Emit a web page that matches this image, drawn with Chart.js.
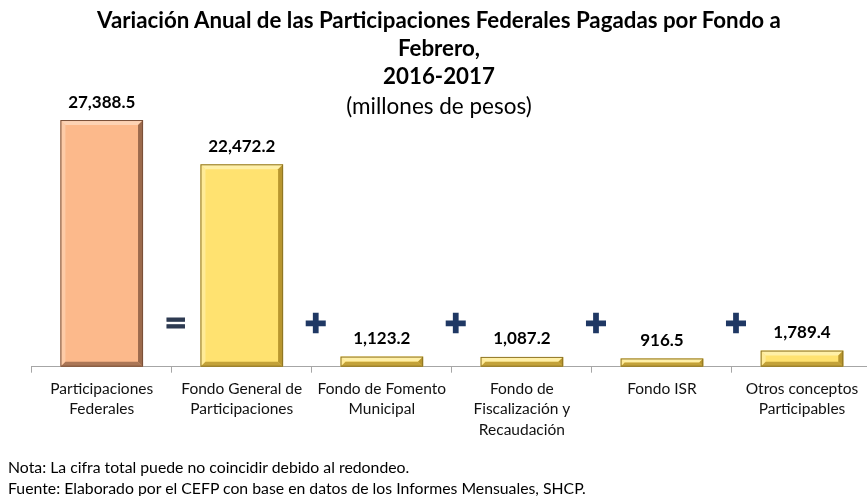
<!DOCTYPE html>
<html><head><meta charset="utf-8">
<script src="https://cdn.jsdelivr.net/npm/chart.js@4.4.1/dist/chart.umd.min.js"></script>
<style>
html,body{margin:0;padding:0;background:#fff;overflow:hidden;width:867px;height:496px;}
#wrap{position:relative;width:867px;height:496px;overflow:hidden;}
#c{position:absolute;left:0;top:0;}
.t{position:absolute;left:0;width:878px;text-align:center;color:#000;font-family:Lato,'Open Sans',sans-serif;white-space:nowrap;}
.tb{font-weight:bold;font-size:22.3px;line-height:28px;top:6px;}
.ts{font-size:22.5px;line-height:26px;top:93px;}
.notes{position:absolute;left:8px;top:456px;font-family:Lato,'Open Sans',sans-serif;font-size:15.8px;line-height:21px;color:#000;white-space:nowrap;}
</style></head>
<body><div id="wrap">
<canvas id="c" width="872" height="496"></canvas>
<div class="t tb">Variación Anual de las Participaciones Federales Pagadas por Fondo a<br>Febrero,<br>2016-2017</div>
<div class="t ts">(millones de pesos)</div>
<div class="notes">Nota: La cifra total puede no coincidir debido al redondeo.<br>Fuente: Elaborado por el CEFP con base en datos de los Informes Mensuales, SHCP.</div>
</div>
<script>
const categories = [
  ["Participaciones", "Federales"],
  ["Fondo General de", "Participaciones"],
  ["Fondo de Fomento", "Municipal"],
  ["Fondo de", "Fiscalización y", "Recaudación"],
  ["Fondo ISR"],
  ["Otros conceptos", "Participables"]
];
const values = [27388.5, 22472.2, 1123.2, 1087.2, 916.5, 1789.4];
const operators = ["=", "+", "+", "+", "+"];

const bodyColors = ["#FCB98B", "#FFE270", "#FFE270", "#FFE270", "#FFE270", "#FFE270"];
const lightColors = ["#FDD3B4", "#FFF0A8", "#FFF0A8", "#FFF0A8", "#FFF0A8", "#FFF0A8"];
const darkColors = ["#9C6A4C", "#B8962F", "#B8962F", "#B8962F", "#B8962F", "#B8962F"];
const edgeColors = ["#7A5038", "#8E7424", "#8E7424", "#8E7424", "#8E7424", "#8E7424"];

const fmt = v => v.toLocaleString('en-US', {minimumFractionDigits: 1, maximumFractionDigits: 1});

const bevelPlugin = {
  id: 'bevel',
  afterDatasetsDraw(chart) {
    const ctx = chart.ctx;
    const meta = chart.getDatasetMeta(0);
    meta.data.forEach((bar, i) => {
      const l = bar.x - bar.width / 2, r = bar.x + bar.width / 2, t = bar.y, b = bar.base;
      const h = b - t;
      const s = Math.min(5, h / 2);
      ctx.save();
      ctx.fillStyle = lightColors[i];
      ctx.beginPath(); ctx.moveTo(l, t); ctx.lineTo(r, t); ctx.lineTo(r - s, t + s); ctx.lineTo(l + s, t + s); ctx.closePath(); ctx.fill();
      ctx.globalAlpha = 0.7;
      ctx.beginPath(); ctx.moveTo(l, t); ctx.lineTo(l + s, t + s); ctx.lineTo(l + s, b - s); ctx.lineTo(l, b); ctx.closePath(); ctx.fill();
      ctx.globalAlpha = 1;
      ctx.fillStyle = darkColors[i];
      ctx.beginPath(); ctx.moveTo(r, t); ctx.lineTo(r, b); ctx.lineTo(r - s, b - s); ctx.lineTo(r - s, t + s); ctx.closePath(); ctx.fill();
      ctx.globalAlpha = 0.85;
      ctx.beginPath(); ctx.moveTo(l, b); ctx.lineTo(r, b); ctx.lineTo(r - s, b - s); ctx.lineTo(l + s, b - s); ctx.closePath(); ctx.fill();
      ctx.globalAlpha = 1;
      ctx.strokeStyle = edgeColors[i];
      ctx.lineWidth = 1;
      ctx.strokeRect(l + 0.5, t + 0.5, r - l - 1, h - 1);
      ctx.restore();
    });
  }
};

const labelPlugin = {
  id: 'labels',
  afterDatasetsDraw(chart) {
    const ctx = chart.ctx;
    const meta = chart.getDatasetMeta(0);
    ctx.save();
    ctx.font = 'bold 17px Lato';
    ctx.fillStyle = '#000';
    ctx.textAlign = 'center';
    ctx.textBaseline = 'middle';
    meta.data.forEach((bar, i) => {
      ctx.fillText(fmt(values[i]), bar.x, bar.y - 18);
    });
    const xs = chart.scales.x, ys = chart.scales.y;
    operators.forEach((op, k) => {
      const xb = (xs.getPixelForValue(k) + xs.getPixelForValue(k + 1)) / 2 + 4;
      const yb = ys.getPixelForValue(4630);
      ctx.font = 'bold 28px "DejaVu Sans"';
      ctx.fillStyle = op === '=' ? '#2E3B52' : '#1F3864';
      ctx.strokeStyle = ctx.fillStyle;
      ctx.lineWidth = op === '=' ? 1 : 2.5;
      ctx.lineJoin = 'miter';
      ctx.fillText(op, xb, yb);
      ctx.strokeText(op, xb, yb);
    });
    ctx.restore();
  }
};

new Chart(document.getElementById('c'), {
  type: 'bar',
  data: {
    labels: categories,
    datasets: [{
      data: values,
      backgroundColor: bodyColors,
      borderWidth: 0,
      barPercentage: 0.59,
      categoryPercentage: 1.0
    }]
  },
  options: {
    responsive: false,
    animation: false,
    devicePixelRatio: 1,
    layout: {padding: {top: 96.5, left: 31.7, right: 0, bottom: 49.3}},
    plugins: {legend: {display: false}, tooltip: {enabled: false}, title: {display: false}},
    scales: {
      y: {display: false, min: 0, max: 30000},
      x: {
        grid: {display: true, drawOnChartArea: false, drawTicks: true, tickLength: 6, color: '#A6A6A6', offset: true},
        border: {display: true, color: '#A6A6A6', width: 1},
        ticks: {font: {family: 'Lato', size: 15.5, lineHeight: 1.32}, color: '#111', padding: 6, maxRotation: 0, autoSkip: false},
        afterFit: s => { s.height = 80; }
      }
    }
  },
  plugins: [bevelPlugin, labelPlugin]
});
</script>
</body></html>
